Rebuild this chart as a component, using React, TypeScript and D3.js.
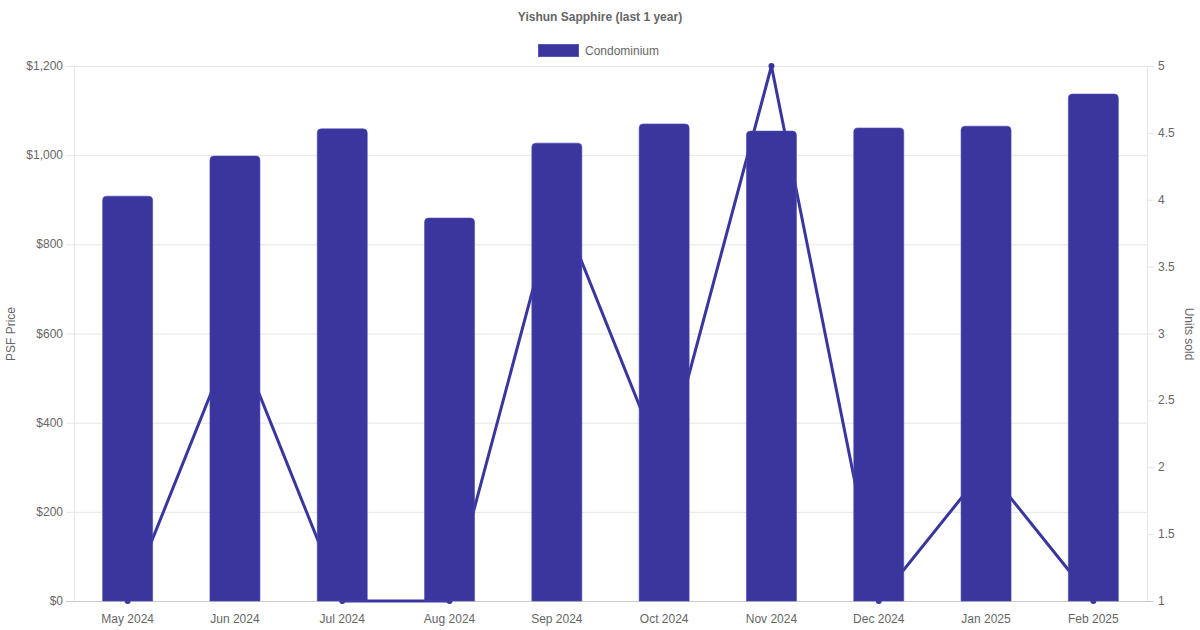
import React from "react";
import * as d3 from "d3";

const categories = ["May 2024", "Jun 2024", "Jul 2024", "Aug 2024", "Sep 2024", "Oct 2024", "Nov 2024", "Dec 2024", "Jan 2025", "Feb 2025"];
const psfValues = [908, 998, 1059, 859, 1027, 1070, 1054, 1061, 1065, 1137];
const unitsSold = [1, 3, 1, 1, 4, 2, 5, 1, 2, 1];
const leftTicks = [0, 200, 400, 600, 800, 1000, 1200];
const rightTicks = [1, 1.5, 2, 2.5, 3, 3.5, 4, 4.5, 5];

const W = 1200, H = 630;
const left = 74, right = 1147, top = 66, bottom = 601;
const color = "#3a369e";
const textColor = "#666";
const font = "'Liberation Sans', Arial, Helvetica, sans-serif";

export default function App() {
  const x = d3.scaleBand<string>().domain(categories).range([left, right]);
  const yL = d3.scaleLinear().domain([0, 1200]).range([bottom, top]);
  const yR = d3.scaleLinear().domain([1, 5]).range([bottom, top]);
  const barW = 50;
  const r = 4;
  const cx = (c: string) => (x(c) as number) + x.bandwidth() / 2;
  const line = d3.line<number>().x((_, i) => cx(categories[i])).y((d) => yR(d));
  const fmt = (v: number) => "$" + d3.format(",")(v);

  const barPath = (c: string, v: number) => {
    const x0 = cx(c) - barW / 2, x1 = cx(c) + barW / 2;
    const y0 = yL(v), yb = yL(0);
    return `M${x0},${yb}L${x0},${y0 + r}Q${x0},${y0} ${x0 + r},${y0}L${x1 - r},${y0}Q${x1},${y0} ${x1},${y0 + r}L${x1},${yb}Z`;
  };

  return (
    <svg width={W} height={H} style={{ position: "absolute", left: 0, top: 0, background: "#fff" }} fontFamily={font}>
      {/* title */}
      <text x={600} y={21} textAnchor="middle" fontSize={12} fontWeight="bold" fill={textColor}>Yishun Sapphire (last 1 year)</text>
      {/* legend */}
      <rect x={538.5} y={44.5} width={40} height={12} fill={color} stroke="#5a56b8" strokeWidth={1} />
      <text x={585} y={54.5} fontSize={12} fill={textColor}>Condominium</text>

      {/* gridlines */}
      {leftTicks.map((t) => (
        <line key={"g" + t} x1={66} x2={right} y1={yL(t) + 0.5} y2={yL(t) + 0.5} stroke={t === 0 ? "#cccccc" : "#e5e5e5"} strokeWidth={1} />
      ))}
      <line x1={left + 0.5} x2={left + 0.5} y1={top} y2={bottom} stroke="#e5e5e5" />
      <line x1={right + 0.5} x2={right + 0.5} y1={top} y2={bottom} stroke="#e5e5e5" />
      {rightTicks.map((t) => (
        <line key={"rt" + t} x1={right} x2={1154} y1={yR(t) + 0.5} y2={yR(t) + 0.5} stroke="#e5e5e5" />
      ))}
      <line x1={left} x2={1154} y1={bottom + 0.5} y2={bottom + 0.5} stroke="#cccccc" />

      {/* line (behind bars) */}
      <path d={line(unitsSold) as string} fill="none" stroke={color} strokeWidth={3} strokeLinejoin="round" />
      {unitsSold.map((v, i) => (
        <circle key={"p" + i} cx={cx(categories[i])} cy={yR(v)} r={3} fill={color} />
      ))}

      {/* bars */}
      {psfValues.map((v, i) => (
        <path key={"b" + i} d={barPath(categories[i], v)} fill={color} stroke="#4d49b0" strokeWidth={0.6} />
      ))}

      {/* left axis labels */}
      {leftTicks.map((t) => (
        <text key={"lt" + t} x={63} y={yL(t) + 4} textAnchor="end" fontSize={12} fill={textColor}>{fmt(t)}</text>
      ))}
      {/* right axis labels */}
      {rightTicks.map((t) => (
        <text key={"rl" + t} x={1158} y={yR(t) + 4} textAnchor="start" fontSize={12} fill={textColor}>{String(t)}</text>
      ))}
      {/* x labels */}
      {categories.map((c) => (
        <text key={"x" + c} x={cx(c)} y={623} textAnchor="middle" fontSize={12} fill={textColor}>{c}</text>
      ))}
      {/* axis titles */}
      <text transform={`translate(15,334) rotate(-90)`} textAnchor="middle" fontSize={12} fill={textColor}>PSF Price</text>
      <text transform={`translate(1185,334) rotate(90)`} textAnchor="middle" fontSize={12} fill={textColor}>Units sold</text>
    </svg>
  );
}
